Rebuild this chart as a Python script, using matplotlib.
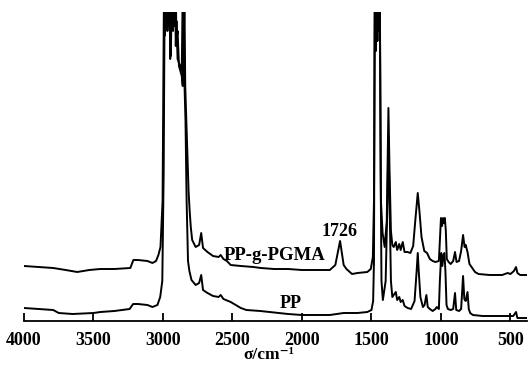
import matplotlib
matplotlib.use("Agg")
import matplotlib.pyplot as plt

plt.rcParams['font.family'] = ['Liberation Serif', 'DejaVu Serif']

# PP-g-PGMA spectrum (wavenumber cm-1, intensity a.u.)
pgma_wn = [4000, 3900, 3790, 3700, 3617, 3530, 3451, 3350, 3235, 3213, 3180, 3112, 3076, 3050, 3033, 3018,
           3003, 2993, 2988, 2983, 2978, 2973, 2968, 2963, 2958, 2953, 2948, 2943, 2938, 2933, 2928,
           2923, 2918, 2913, 2908, 2903, 2895, 2885, 2875, 2865, 2858, 2852, 2846, 2840, 2832, 2824,
           2816, 2808, 2800, 2790, 2765, 2740, 2725, 2712, 2680, 2640, 2600, 2585, 2565, 2540, 2513, 2440,
           2350, 2296, 2200, 2100, 2000, 1900, 1800, 1760, 1740, 1726, 1715, 1700, 1680, 1640, 1600,
           1530, 1505, 1490, 1482, 1476, 1470, 1465, 1458, 1452, 1446, 1440, 1432, 1420, 1405, 1390,
           1378, 1370, 1360, 1350, 1340,
           1325, 1315, 1300, 1290, 1275, 1262, 1240, 1220, 1200, 1185, 1167, 1155, 1140, 1120, 1100,
           1080, 1060, 1040, 1015, 1008, 1000, 992, 985, 978, 972, 965, 958, 945, 930, 912, 899, 888,
           870, 855, 841, 830, 822, 809, 795, 775, 755, 730, 650, 560, 520, 500, 475, 460, 450, 430, 380]
pgma_ab = [55, 54, 53, 51, 49, 51, 52, 52, 53, 61, 61, 60, 58, 60, 66, 74,
           120, 330, 285, 330, 295, 330, 290, 330, 300, 330, 262, 330, 295, 330, 290,
           330, 295, 330, 275, 300, 262, 258, 255, 250, 330, 250, 330, 235, 200, 165,
           130, 110, 94, 81, 74, 76, 88, 73, 69, 65, 64, 66, 62, 60, 56, 55,
           54, 53, 52, 52, 51, 51, 51, 56, 70, 80, 70, 56, 52, 47, 48,
           49, 52, 64, 120, 330, 270, 330, 280, 330, 290, 330, 120, 88, 74, 100,
           213, 150, 90, 76, 74,
           79, 71, 77, 71, 79, 69, 69, 68, 75, 100, 128, 110, 84, 70, 68,
           62, 60, 59, 60, 80, 103, 95, 103, 98, 103, 90, 62, 59, 57, 60, 69, 59,
           60, 70, 86, 74, 76, 69, 57, 53, 49, 47, 46, 46, 48, 47, 50, 54, 48, 46, 46]

# PP spectrum
pp_wn = [4000, 3900, 3790, 3750, 3650, 3500, 3450, 3350, 3240, 3215, 3180, 3112, 3076, 3040, 3020, 3005,
         2995, 2988, 2983, 2978, 2973, 2968, 2963, 2958, 2953, 2948, 2943, 2938, 2933, 2928,
         2923, 2918, 2913, 2908, 2903, 2895, 2885, 2875, 2865, 2858, 2852, 2846, 2838, 2830, 2820,
         2810, 2795, 2765, 2740, 2725, 2712, 2680, 2640, 2600, 2585, 2565, 2513, 2440, 2400, 2300,
         2100, 2000, 1900, 1800, 1700, 1600, 1530, 1500, 1488, 1482, 1476, 1470, 1465, 1458, 1452,
         1446, 1440, 1434, 1428, 1418,
         1398, 1385, 1378, 1370, 1360, 1350, 1325, 1315, 1300, 1290, 1275, 1262, 1240, 1215, 1190,
         1175, 1167, 1160, 1148, 1130, 1118, 1105, 1095, 1080, 1060, 1040, 1030, 1015, 1008, 998,
         990, 982, 975, 968, 960, 950, 930, 912, 899, 890, 870, 855, 841, 832, 822, 809, 800, 790,
         770, 700, 600, 520, 480, 470, 460, 450, 430, 380]
pp_ab = [13, 12, 11, 8, 7, 8, 9, 10, 12, 17, 17, 16, 14, 16, 24, 40,
         150, 330, 290, 330, 300, 330, 295, 330, 300, 330, 265, 330, 300, 330,
         295, 330, 300, 330, 280, 290, 255, 250, 245, 235, 330, 240, 200, 120, 60,
         50, 41, 36, 38, 46, 31, 28, 25, 24, 26, 22, 19, 13, 11, 10,
         7, 6, 6, 6, 8, 8, 9, 11, 20, 60, 330, 270, 330, 280, 330,
         290, 330, 150, 40, 21,
         40, 120, 185, 120, 40, 24, 29, 21, 24, 19, 21, 15, 13, 12, 20,
         50, 68, 50, 24, 14, 16, 26, 14, 12, 10, 12, 14, 12, 40, 68,
         55, 66, 68, 50, 16, 12, 11, 12, 28, 11, 10, 12, 45, 22, 20, 29, 12, 8,
         6, 5, 5, 5, 5, 7, 9, 3, 3, 3]

xticks = [4000, 3500, 3000, 2500, 2000, 1500, 1000, 500]

fig = plt.figure(figsize=(5.29, 3.68), dpi=100)
ax = fig.add_axes([24 / 529, 47 / 368, 503 / 529, 309 / 368])

ax.plot(pgma_wn, pgma_ab, color='black', lw=1.4)
ax.plot(pp_wn, pp_ab, color='black', lw=1.4)

ax.set_xlim(4000, 381)
ax.set_ylim(0, 309)

for s in ['top', 'left', 'right']:
    ax.spines[s].set_visible(False)
ax.spines['bottom'].set_linewidth(1.3)
ax.set_yticks([])
ax.set_xticks(xticks)
ax.set_xticklabels([str(t) for t in xticks], fontsize=13, fontweight='bold')
ax.tick_params(axis='x', direction='in', length=6, width=1.3, pad=8)

ax.set_xlabel('σ/cm⁻¹', fontsize=12.5, fontweight='bold')
ax.xaxis.set_label_coords(0.487, -0.085)

ax.text(2195, 66, 'PP-g-PGMA', fontsize=13.5, fontweight='bold', ha='center', va='center')
ax.text(1727, 90, '1726', fontsize=13, fontweight='bold', ha='center', va='center')
ax.text(2080, 18, 'PP', fontsize=13, fontweight='bold', ha='center', va='center')

fig.savefig('out.png', dpi=100)
